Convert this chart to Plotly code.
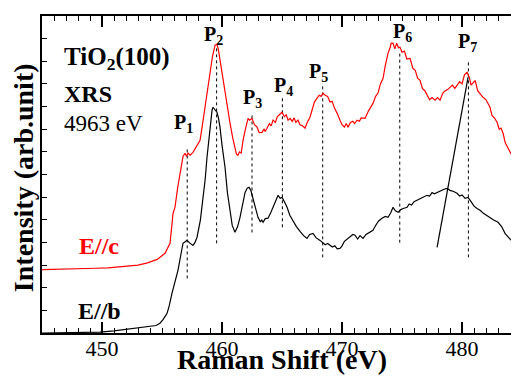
import plotly.graph_objects as go

# ---- data ----
red_x = [445.0, 446.5, 448.0, 449.5, 450.5, 451.5, 452.3, 453.0, 453.8, 454.6, 455.25, 455.67, 455.92, 456.08, 456.3,
         456.5, 456.75, 456.92, 457.05, 457.17, 457.35, 457.58, 457.8, 458.17, 458.4, 458.58, 458.8, 459.0, 459.2,
         459.42, 459.58, 459.7, 459.83, 460.0, 460.25, 460.45, 460.67, 460.9, 461.08, 461.2, 461.33, 461.45, 461.6,
         461.75, 461.95, 462.17, 462.3, 462.5, 462.7, 462.92, 463.1, 463.33, 463.5, 463.6, 463.75, 463.95, 464.1,
         464.25, 464.45, 464.6, 464.8, 465.0, 465.2, 465.35, 465.5, 465.67, 465.85, 466.0, 466.15, 466.33, 466.5,
         466.7, 466.92, 467.1, 467.33, 467.5, 467.7, 467.92, 468.1, 468.25, 468.42, 468.6, 468.8, 469.0, 469.17,
         469.4, 469.6, 469.83, 470.0, 470.2, 470.35, 470.5, 470.7, 470.9, 471.05, 471.25, 471.45, 471.6, 471.92,
         472.2, 472.4, 472.58, 472.8, 473.0, 473.2, 473.42, 473.6, 473.83, 474.0, 474.1, 474.25, 474.4, 474.55,
         474.7, 474.83, 475.0, 475.2, 475.4, 475.67, 475.9, 476.1, 476.3, 476.5, 476.7, 476.9, 477.08, 477.3, 477.5,
         477.75, 477.95, 478.17, 478.4, 478.6, 478.8, 479.0, 479.2, 479.4, 479.58, 479.8, 480.0, 480.2, 480.42,
         480.6, 480.75, 480.92, 481.1, 481.3, 481.5, 481.75, 482.0, 482.33, 482.5, 482.7, 482.92, 483.1, 483.25,
         483.42, 483.6, 483.8, 484.0, 484.2]
red_y = [2.80, 2.81, 2.83, 2.86, 2.88, 2.92, 2.95, 3.00, 3.10, 3.25, 3.52, 3.96, 5.29, 5.55, 6.4,
         7.06, 7.8, 7.94, 7.80, 7.95, 7.85, 7.98, 8.2, 8.51, 9.3, 9.97, 10.9, 11.6, 12.2,
         12.71, 12.75, 12.5, 12.04, 11.6, 10.72, 10.0, 9.26, 8.6, 8.20, 7.9, 7.85, 8.0, 7.95,
         8.51, 9.0, 9.48, 9.40, 9.48, 9.2, 9.09, 8.85, 8.86, 9.0, 8.9, 9.04, 9.25, 9.15,
         9.40, 9.3, 9.55, 9.65, 9.75, 9.55, 9.65, 9.4, 9.48, 9.35, 9.5, 9.3, 9.40, 9.2,
         9.15, 9.04, 9.3, 9.53, 9.9, 10.2, 10.37, 10.5, 10.45, 10.59, 10.5, 10.45, 10.2, 10.23,
         9.9, 9.7, 9.40, 9.2, 9.1, 9.25, 9.09, 9.3, 9.35, 9.25, 9.40, 9.35, 9.5, 9.48,
         9.8, 9.95, 10.14, 10.45, 10.6, 11.0, 11.25, 11.8, 12.35, 12.6, 12.8, 12.79, 12.55, 12.8,
         12.6, 12.62, 12.4, 12.45, 12.1, 12.13, 11.7, 11.6, 11.25, 11.16, 10.8, 10.7, 10.50, 10.3, 10.4,
         10.28, 10.4, 10.28, 10.6, 10.7, 10.75, 10.85, 10.95, 10.8, 10.94, 11.1, 11.0, 11.4, 11.51,
         11.3, 10.95, 11.07, 11.15, 10.7, 10.55, 10.41, 10.3, 9.97, 9.6, 9.5, 9.31, 9.0, 9.05,
         8.82, 8.4, 8.2, 7.94, 7.8]

black_x = [445.0, 447.0, 449.83, 451.0, 452.08, 453.0, 454.0, 454.5, 454.83, 455.1, 455.42, 455.6, 455.83, 456.1,
           456.33, 456.55, 456.75, 456.9, 457.08, 457.3, 457.58, 457.75, 457.92, 458.2, 458.42, 458.6, 458.75,
           458.95, 459.17, 459.25, 459.4, 459.58, 459.7, 459.83, 460.0, 460.25, 460.45, 460.67, 460.85, 461.08,
           461.3, 461.5, 461.7, 461.92, 462.1, 462.25, 462.4, 462.58, 462.8, 463.0, 463.2, 463.3, 463.42, 463.6,
           463.83, 464.05, 464.25, 464.45, 464.67, 464.85, 465.0, 465.2, 465.42, 465.65, 465.92, 466.2, 466.5,
           466.8, 467.08, 467.3, 467.58, 467.85, 468.17, 468.4, 468.6, 468.8, 469.0, 469.2, 469.4, 469.6, 469.83,
           470.0, 470.2, 470.5, 470.7, 470.9, 471.08, 471.3, 471.5, 471.75, 472.0, 472.3, 472.58, 472.8, 473.05,
           473.33, 473.6, 473.83, 474.05, 474.25, 474.45, 474.67, 474.9, 475.1, 475.42, 475.6, 475.8, 476.0,
           476.25, 476.5, 476.8, 477.08, 477.3, 477.5, 477.7, 477.92, 478.2, 478.5, 478.75, 479.0, 479.3, 479.58,
           479.8, 480.0, 480.25, 480.5, 480.75, 481.0, 481.25, 481.5, 481.75, 482.0, 482.33, 482.6, 483.0, 483.3,
           483.58, 483.85, 484.1]
black_y = [0.0, 0.01, 0.04, 0.09, 0.16, 0.21, 0.27, 0.33, 0.43, 0.6, 0.87, 1.2, 1.75, 2.3,
           2.77, 3.4, 3.96, 4.02, 4.09, 3.98, 3.87, 4.0, 4.23, 5.0, 5.86, 6.8, 7.76,
           8.8, 9.84, 9.97, 9.85, 9.75, 9.5, 9.09, 8.3, 7.32, 6.2, 5.29, 4.75, 4.45,
           4.7, 5.11, 5.7, 6.21, 6.4, 6.44, 6.3, 5.99, 5.5, 5.11, 4.9, 5.0, 4.89, 5.05,
           5.07, 5.3, 5.55, 5.85, 6.08, 5.95, 5.99, 5.8, 5.55, 5.2, 4.93, 4.7, 4.49,
           4.3, 4.18, 4.35, 4.40, 4.2, 4.09, 4.0, 3.9, 3.95, 3.87, 3.8, 3.85, 3.72, 3.74,
           3.85, 4.05, 4.18, 4.25, 4.35, 4.32, 4.15, 4.3, 4.18, 4.35, 4.45, 4.54, 4.75, 4.95,
           5.07, 5.15, 5.11, 5.3, 5.55, 5.4, 5.33, 5.45, 5.5, 5.55, 5.7, 5.65, 5.8,
           5.86, 5.95, 6.0, 6.08, 6.05, 6.2, 6.15, 6.21, 6.3, 6.35, 6.39, 6.3, 6.25, 6.17,
           6.05, 6.1, 5.95, 5.99, 5.8, 5.6, 5.5, 5.42, 5.3, 5.2, 5.07, 5.0, 4.89, 4.7,
           4.40, 4.25, 4.09]

slope_x = [477.92, 480.5]
slope_y = [3.78, 11.29]

peak_names = ["1", "2", "3", "4", "5", "6", "7"]
peak_x = [457.1, 459.55, 462.5, 465.03, 468.39, 474.81, 480.53]
peak_lo = [2.41, 3.96, 4.44, 4.67, 3.34, 3.99, 3.34]
peak_hi = [8.15, 12.7, 9.74, 10.5, 11.03, 12.35, 11.96]
label_x = [456.75, 459.25, 462.58, 465.13, 468.08, 475.0, 480.46]
label_y = [9.24, 13.15, 10.37, 10.87, 11.51, 13.28, 12.82]

x_ticks = [450, 460, 470, 480]

FONT = "'Times New Roman', 'Liberation Serif', 'DejaVu Serif', serif"

fig = go.Figure()

# dotted peak markers
dx, dy = [], []
for px, lo, hi in zip(peak_x, peak_lo, peak_hi):
    dx += [px, px, None]
    dy += [lo, hi, None]
fig.add_trace(go.Scatter(x=dx, y=dy, mode="lines",
                         line=dict(color="black", width=1, dash="dot"), hoverinfo="skip"))

fig.add_trace(go.Scatter(x=red_x, y=red_y, mode="lines", line=dict(color="#ff0000", width=1.2)))
fig.add_trace(go.Scatter(x=black_x, y=black_y, mode="lines", line=dict(color="black", width=1.2)))
fig.add_trace(go.Scatter(x=slope_x, y=slope_y, mode="lines", line=dict(color="black", width=1.2)))

annotations = []
for n, lx, ly in zip(peak_names, label_x, label_y):
    annotations.append(dict(x=lx, y=ly, xref="x", yref="y", text=f"<b>P<sub>{n}</sub></b>",
                            showarrow=False, font=dict(size=20, color="black", family=FONT),
                            xanchor="center", yanchor="middle"))

annotations += [
    dict(x=446.67, y=(332.7 - 58) / 22.64, xref="x", yref="y", text="<b>TiO<sub>2</sub>(100)</b>",
         showarrow=False, font=dict(size=25, color="black", family=FONT), xanchor="left", yanchor="middle"),
    dict(x=446.67, y=(332.7 - 94) / 22.64, xref="x", yref="y", text="<b>XRS</b>",
         showarrow=False, font=dict(size=24, color="black", family=FONT), xanchor="left", yanchor="middle"),
    dict(x=446.67, y=(332.7 - 123) / 22.64, xref="x", yref="y", text="4963 eV",
         showarrow=False, font=dict(size=23, color="black", family=FONT), xanchor="left", yanchor="middle"),
    dict(x=449.75, y=3.83, xref="x", yref="y", text="<b>E//c</b>",
         showarrow=False, font=dict(size=24, color="#ff0000", family=FONT), xanchor="center", yanchor="middle"),
    dict(x=449.83, y=0.96, xref="x", yref="y", text="<b>E//b</b>",
         showarrow=False, font=dict(size=24, color="black", family=FONT), xanchor="center", yanchor="middle"),
    dict(x=0.512, y=-0.084, xref="paper", yref="paper", text="<b>Raman Shift (eV)</b>",
         showarrow=False, font=dict(size=28, color="black", family=FONT), xanchor="center", yanchor="middle"),
    dict(x=-0.038, y=0.489, xref="paper", yref="paper", text="<b>Intensity (arb.unit)</b>", textangle=-90,
         showarrow=False, font=dict(size=28, color="black", family=FONT), xanchor="center", yanchor="middle"),
]

fig.update_layout(
    width=511, height=376,
    margin=dict(l=42, r=0, t=16, b=43),
    paper_bgcolor="white", plot_bgcolor="white",
    showlegend=False,
    annotations=annotations,
    font=dict(family=FONT, color="black"),
    xaxis=dict(range=[445, 484.08], tickvals=x_ticks, ticks="inside", ticklen=11, tickwidth=1.5,
               tickcolor="black", showline=True, linecolor="black", linewidth=2, mirror="ticks",
               showgrid=False, zeroline=False, tickfont=dict(size=22, family=FONT, color="black"),
               ticklabelstandoff=-5,
               minor=dict(dtick=1, tick0=445, ticks="inside", ticklen=5, tickwidth=1.2, tickcolor="black",
                          showgrid=False)),
    yaxis=dict(range=[0, 14], dtick=1, tick0=0, ticks="inside", ticklen=5, tickwidth=1.2, tickcolor="black",
               showline=True, linecolor="black", linewidth=2, mirror=False, showgrid=False,
               zeroline=False, showticklabels=False),
)

fig.write_html("out.html", config={"displayModeBar": False},
               post_script="document.body.style.margin='0';document.body.style.overflow='hidden';")
